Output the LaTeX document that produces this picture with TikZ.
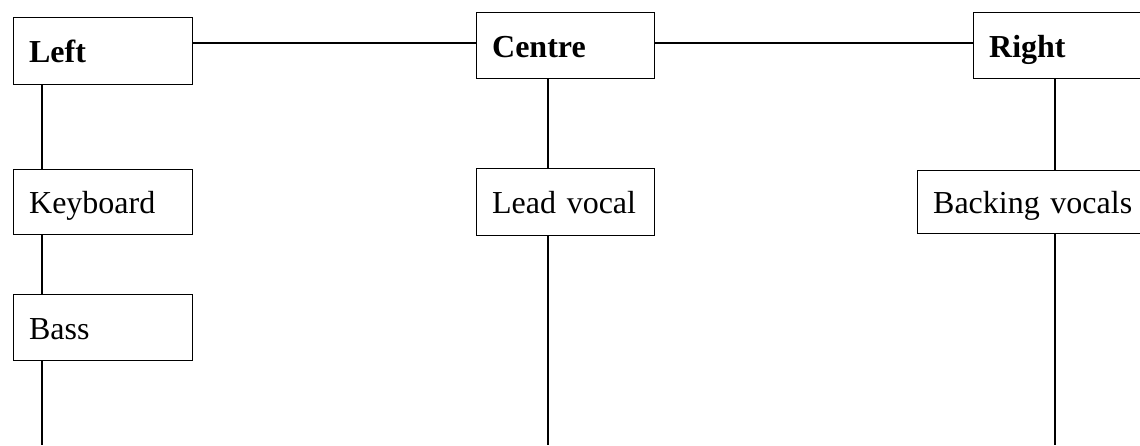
\documentclass[tikz,border=0pt]{standalone}
\usepackage{fontspec}
\setmainfont{Liberation Serif}
\begin{document}
\begin{tikzpicture}[x=1pt,y=-1pt,
  box/.style={draw, line width=1.3pt, anchor=north west, inner xsep=15.5pt, inner ysep=0pt,
    align=left, text height=23pt, text depth=0pt, font=\fontsize{32}{38}\selectfont},
  link/.style={line width=1.3pt}]
\useasboundingbox (0,0) rectangle (1140,445);
\node[box, minimum height=67pt, text width=148pt] (left) at (13,17) {\textbf{Left}};
\node[box, minimum height=66pt, text width=147pt] (centre) at (476,12) {\textbf{Centre}};
\node[box, minimum height=66pt, text width=150pt] (right) at (973,12) {\textbf{Right}};
\node[box, minimum height=65pt, text width=148pt] (keyboard) at (13,169) {Keyboard};
\node[box, minimum height=66pt, text width=148pt] (bass) at (13,294) {Bass};
\node[box, minimum height=67pt, text width=147pt] (lead) at (476,168) {Lead vocal};
\node[box, minimum height=63pt, text width=205pt] (backing) at (917,170) {Backing vocals};
\coordinate (row) at (0,43);
\coordinate (cl) at (42,0);
\coordinate (cc) at (548,0);
\coordinate (cr) at (1055,0);
\coordinate (bl) at (42,445);
\coordinate (bc) at (548,445);
\coordinate (br) at (1055,445);
\draw[link] (left.east |- row) -- (centre.west |- row);
\draw[link] (centre.east |- row) -- (right.west |- row);
\draw[link] (left.south -| cl) -- (keyboard.north -| cl);
\draw[link] (keyboard.south -| cl) -- (bass.north -| cl);
\draw[link] (bass.south -| cl) -- (bl);
\draw[link] (centre.south -| cc) -- (lead.north -| cc);
\draw[link] (lead.south -| cc) -- (bc);
\draw[link] (right.south -| cr) -- (backing.north -| cr);
\draw[link] (backing.south -| cr) -- (br);
\end{tikzpicture}
\end{document}
